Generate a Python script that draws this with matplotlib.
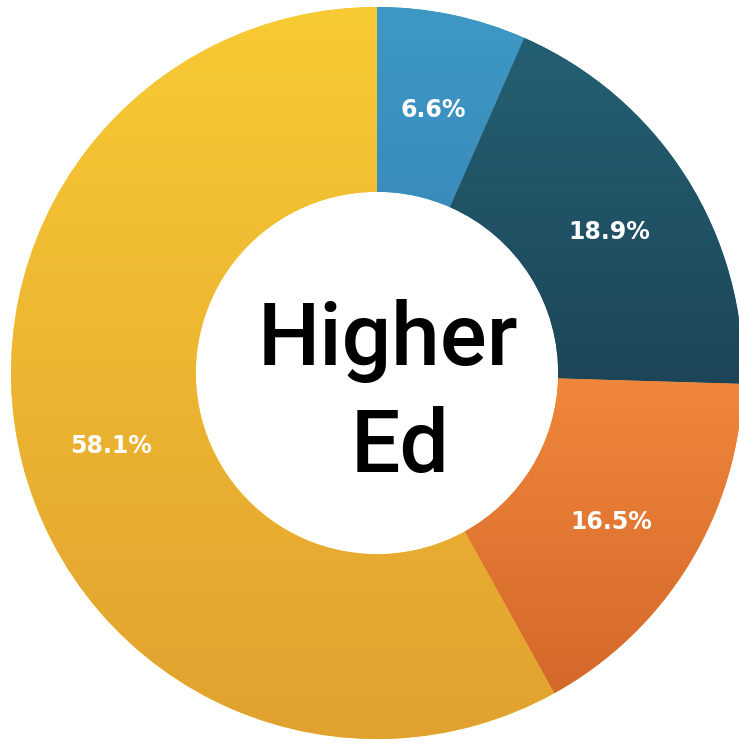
import numpy as np
from matplotlib import pyplot as plt
from matplotlib.colors import to_rgb

shares = [6.6, 18.9, 16.5, 58.1]
labels = ["6.6%", "18.9%", "16.5%", "58.1%"]
top_colors = ["#3e98c6", "#255f73", "#f0873a", "#f8ca34"]
bottom_colors = ["#3a8cbc", "#1c4658", "#d4682b", "#e1a12f"]
center_lines = ["Higher", "Ed"]


def main():
    fig = plt.figure(figsize=(7.39, 7.44), dpi=100)
    ax = fig.add_axes([0, 0, 1, 1])

    wedges, texts = ax.pie(shares, startangle=90, counterclock=False, radius=1.0,
                           colors=top_colors, labels=None,
                           wedgeprops=dict(width=0.505, linewidth=0))

    # vertical gradient inside each wedge, spanning that wedge's own height
    for wedge, c_top, c_bot in zip(wedges, top_colors, bottom_colors):
        ext = wedge.get_path().get_extents()
        t = np.linspace(0, 1, 256)[:, None]
        rgb = (1 - t) * np.array(to_rgb(c_top)) + t * np.array(to_rgb(c_bot))
        img = ax.imshow(rgb[:, None, :].repeat(2, axis=1),
                        extent=(ext.x0, ext.x1, ext.y0, ext.y1),
                        origin="upper", aspect="auto", zorder=wedge.get_zorder() + 0.1)
        img.set_clip_path(wedge)

    # percent labels
    cum = np.cumsum([0] + shares[:-1])
    for share, start, text in zip(shares, cum, labels):
        mid = np.deg2rad(90 - (start + share / 2) / 100 * 360)
        ax.text(0.75 * np.cos(mid), 0.75 * np.sin(mid) - 0.015, text, color="white",
                fontsize=17, fontweight="bold", family="DejaVu Sans",
                ha="center", va="center", zorder=5)

    # centre title, one line at a time on its baseline
    for line, x, y in zip(center_lines, [0.03, 0.062], [0.022, -0.270]):
        ax.text(x, y, line, ha="center", va="baseline", fontsize=63,
                family="Roboto", fontweight="medium", color="black", zorder=5)

    ax.set_xlim(-377 / 366, (739 - 377) / 366)
    ax.set_ylim(-(744 - 373) / 366, 373 / 366)
    ax.set_aspect("auto")
    ax.axis("off")

    fig.savefig("out.png", dpi=100)


if __name__ == "__main__":
    main()
